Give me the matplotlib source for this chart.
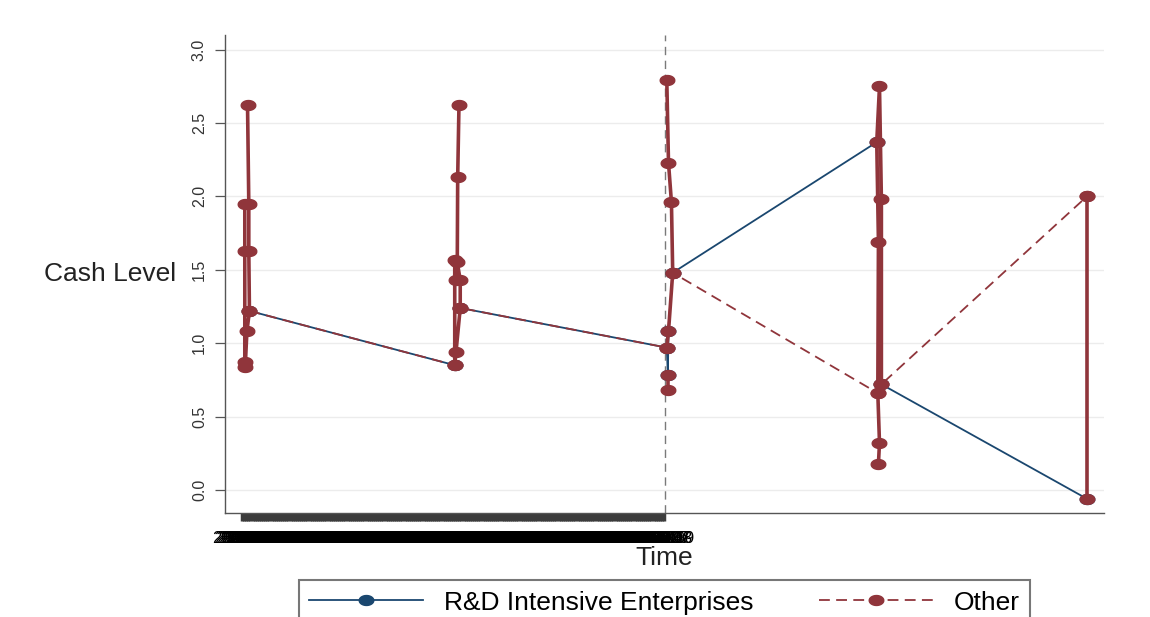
import numpy as np
import matplotlib
matplotlib.use("Agg")
import matplotlib.pyplot as plt

plt.rcParams['font.family'] = ['Liberation Sans', 'DejaVu Sans']

# ---------------- data ----------------
# connecting series (legend entries)
rd_time = [0.021, 0.994, 1.020, 1.999, 2.004, 2.007, 2.027, 2.994, 3.016, 3.99]
rd_cash = [1.22, 0.85, 1.24, 0.97, 0.78, 1.08, 1.48, 2.37, 0.72, -0.06]
other_time = [0.021, 0.994, 1.020, 1.999, 2.027, 2.999, 3.016, 3.99]
other_cash = [1.22, 0.85, 1.24, 0.97, 1.48, 0.66, 0.72, 2.00]

# observation clusters per period (solid maroon connected)
c0_time = [0.012, 0.018, 0.018, 0.021, 0.009, 0.002, -0.001, -0.001, -0.001]
c0_cash = [2.62, 1.95, 1.63, 1.22, 1.08, 0.87, 0.84, 1.63, 1.95]
c1_time = [1.014, 1.008, 1.006, 1.020, 1.020, 1.000, 0.994, 0.994, 1.000]
c1_cash = [2.62, 2.13, 1.55, 1.43, 1.24, 0.94, 0.85, 1.57, 1.43]
c2a_time = [1.999, 2.007, 2.027, 2.021, 2.007, 1.999]
c2a_cash = [0.97, 1.08, 1.48, 1.96, 2.23, 2.79]
c2b_time = [2.004, 2.004]
c2b_cash = [0.78, 0.68]
c3_time = [3.002, 3.007, 2.999, 3.002, 2.994, 3.007, 3.016, 3.016]
c3_cash = [0.18, 0.32, 0.66, 1.69, 2.37, 2.75, 1.98, 0.72]
c4_time = [3.99, 3.99]
c4_cash = [2.00, -0.06]

clusters = [(c0_time, c0_cash), (c1_time, c1_cash), (c2a_time, c2a_cash),
            (c2b_time, c2b_cash), (c3_time, c3_cash), (c4_time, c4_cash)]

y_ticks = [0.0, 0.5, 1.0, 1.5, 2.0, 2.5, 3.0]
y_tick_labels = ["0.0", "0.5", "1.0", "1.5", "2.0", "2.5", "3.0"]

x_tick_times = [round(-0.014 + 0.01 * i, 3) for i in range(201)]
x_tick_labels = [f"{2000 + i // 12}.{i % 12 + 1:02d}" for i in range(201)]

event_time = 1.99

series_labels = ["R&D Intensive Enterprises", "Other"]

# ---------------- style ----------------
navy = "#1a476f"
maroon = "#90353b"

theta = np.linspace(0, 2 * np.pi, 60)
ellipse = np.column_stack([np.cos(theta), 0.68 * np.sin(theta)])

fig = plt.figure(figsize=(11.5, 6.17), dpi=100)
W, H = 1150, 617
ax = fig.add_axes([225 / W, (H - 513) / H, 879 / W, 478 / H])

ax.set_xlim(-0.0948, 4.071)
ax.set_ylim(-0.157, 3.10)

ax.yaxis.grid(True, color="#ececec", lw=1)
ax.set_axisbelow(True)

ax.axvline(event_time, color="#7a7a7a", lw=1.0, ls=(0, (6, 4)), zorder=1)

l_rd, = ax.plot(rd_time, rd_cash, color=navy, lw=1.3, marker=ellipse, ms=10.5,
                mec=navy, mfc=navy, zorder=2)
l_ot, = ax.plot(other_time, other_cash, color=maroon, lw=1.3, ls=(0, (6, 3.5)),
                marker=ellipse, ms=10.5, mec=maroon, mfc=maroon, zorder=3)
for ct, cc in clusters:
    ax.plot(ct, cc, color=maroon, lw=2.6, marker=ellipse, ms=10.5,
            mec=maroon, mfc=maroon, zorder=4, solid_joinstyle="round")

for s in ["top", "right"]:
    ax.spines[s].set_visible(False)
for s in ["left", "bottom"]:
    ax.spines[s].set_color("#555555")
    ax.spines[s].set_linewidth(1.0)

ax.set_yticks(y_ticks)
ax.set_yticklabels(y_tick_labels, rotation=90, va="center", fontsize=11.5, color="#333333")
ax.tick_params(axis="y", length=7, width=0.9, color="#555555", pad=6)

ax.set_xticks(x_tick_times)
ax.set_xticklabels(x_tick_labels, fontsize=12, color="#000000")
ax.tick_params(axis="x", length=6, width=2.5, color="#3c3c3c", pad=7)

ax.set_xlabel("Time", fontsize=19, color="#222222")
ax.xaxis.set_label_coords(0.5, -0.068)
ax.set_ylabel("Cash Level", fontsize=19, rotation=0, ha="right", va="center", color="#222222")
ax.yaxis.set_label_coords(-0.0557, 0.5)

leg = fig.legend(handles=[l_rd, l_ot], labels=series_labels, loc="upper center",
                 bbox_to_anchor=(664.5 / W, 37 / H), ncol=2, fontsize=19,
                 handlelength=4.3, handletextpad=0.8, columnspacing=2.5,
                 borderpad=0.4, borderaxespad=0, frameon=True, fancybox=False,
                 edgecolor="#777777", framealpha=1)
leg.get_frame().set_linewidth(1.5)

fig.savefig("out.png", dpi=100)
